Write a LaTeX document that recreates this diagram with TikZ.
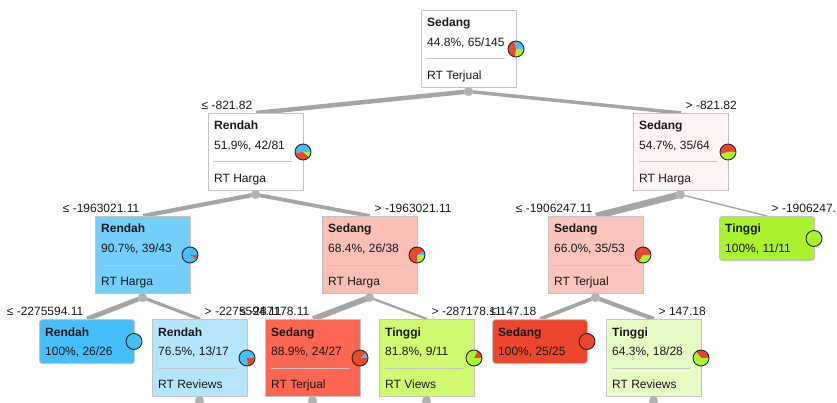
\documentclass[tikz,border=0pt]{standalone}
\usepackage{fontspec}
\setmainfont{Liberation Sans}
\usetikzlibrary{backgrounds}

\definecolor{rendah}{RGB}{70,190,250}
\definecolor{sedang}{RGB}{237,70,47}
\definecolor{tinggi}{RGB}{170,242,43}
\definecolor{boxgray}{RGB}{196,196,196}
\definecolor{linegray}{RGB}{165,165,165}
\definecolor{textgray}{RGB}{25,25,25}

\tikzset{
  innerbox/.style={draw=boxgray, line width=1pt, anchor=north west, inner sep=0pt, minimum width=95pt, minimum height=77pt},
  leafbox/.style={innerbox, rounded corners=3pt, minimum height=44pt},
  classname/.style={anchor=base west, inner sep=0pt, text=textgray, font=\bfseries},
  stats/.style={anchor=base west, inner sep=0pt, text=textgray},
  sepline/.style={draw=boxgray, line width=1pt},
  branch/.style={draw=linegray},
  splitdot/.style={circle, fill=linegray!85, draw=linegray!60, inner sep=0pt, minimum size=9pt},
  leftcut/.style={anchor=base east, inner sep=0pt, text=textgray},
  rightcut/.style={anchor=base west, inner sep=0pt, text=textgray},
  pieline/.style={draw=black!85, line width=0.9pt}
}

\newcommand\drawpie[2]{%
  \foreach \a/\b/\c in {#2}{\fill[\c] (#1) -- ++(\a:8pt) arc[start angle=\a, end angle=\b, radius=8pt] -- cycle;}
  \draw[pieline] (#1) circle[radius=8pt];}

\begin{document}
\fontsize{12}{14}\selectfont
\begin{tikzpicture}[x=1pt,y=-1pt]
\useasboundingbox (0,0) rectangle (837,403);

\node[innerbox, fill=white] (n0) at (421,10) {};
\node[classname] (n0c) at (427,27) {Sedang};
\node[stats] (n0s) at (427,46.5) {44.8\%, 65/145};
\draw[sepline] (427,59) -- (505,59);
\node[stats] (n0a) at (427,79.5) {RT Terjual};

\node[innerbox, fill=white] (n1) at (208,113) {};
\node[classname] (n1c) at (214,130) {Rendah};
\node[stats] (n1s) at (214,149.5) {51.9\%, 42/81};
\draw[sepline] (214,162) -- (292,162);
\node[stats] (n1a) at (214,182.5) {RT Harga};

\node[innerbox, fill=sedang!6!white] (n2) at (633,113) {};
\node[classname] (n2c) at (639,130) {Sedang};
\node[stats] (n2s) at (639,149.5) {54.7\%, 35/64};
\draw[sepline] (639,162) -- (717,162);
\node[stats] (n2a) at (639,182.5) {RT Harga};

\node[innerbox, fill=rendah!75!white] (n3) at (95,216) {};
\node[classname] (n3c) at (101,233) {Rendah};
\node[stats] (n3s) at (101,252.5) {90.7\%, 39/43};
\draw[sepline] (101,265) -- (179,265);
\node[stats] (n3a) at (101,285.5) {RT Harga};

\node[innerbox, fill=sedang!35!white] (n4) at (322,216) {};
\node[classname] (n4c) at (328,233) {Sedang};
\node[stats] (n4s) at (328,252.5) {68.4\%, 26/38};
\draw[sepline] (328,265) -- (406,265);
\node[stats] (n4a) at (328,285.5) {RT Harga};

\node[innerbox, fill=sedang!32!white] (n5) at (548,216) {};
\node[classname] (n5c) at (554,233) {Sedang};
\node[stats] (n5s) at (554,252.5) {66.0\%, 35/53};
\draw[sepline] (554,265) -- (632,265);
\node[stats] (n5a) at (554,285.5) {RT Terjual};

\node[leafbox, fill=tinggi] (n6) at (719,216) {};
\node[classname] (n6c) at (725,233) {Tinggi};
\node[stats] (n6s) at (725,252.5) {100\%, 11/11};

\node[leafbox, fill=rendah] (n7) at (39,319) {};
\node[classname] (n7c) at (45,336) {Rendah};
\node[stats] (n7s) at (45,355.5) {100\%, 26/26};

\node[innerbox, fill=rendah!40!white] (n8) at (152,319) {};
\node[classname] (n8c) at (158,336) {Rendah};
\node[stats] (n8s) at (158,355.5) {76.5\%, 13/17};
\draw[sepline] (158,368) -- (236,368);
\node[stats] (n8a) at (158,388.5) {RT Reviews};

\node[innerbox, fill={rgb,255:red,252;green,102;blue,82}] (n9) at (265,319) {};
\node[classname] (n9c) at (271,336) {Sedang};
\node[stats] (n9s) at (271,355.5) {88.9\%, 24/27};
\draw[sepline] (271,368) -- (349,368);
\node[stats] (n9a) at (271,388.5) {RT Terjual};

\node[innerbox, fill={rgb,255:red,208;green,250;blue,112}] (n10) at (379,319) {};
\node[classname] (n10c) at (385,336) {Tinggi};
\node[stats] (n10s) at (385,355.5) {81.8\%, 9/11};
\draw[sepline] (385,368) -- (463,368);
\node[stats] (n10a) at (385,388.5) {RT Views};

\node[leafbox, fill=sedang] (n11) at (492,319) {};
\node[classname] (n11c) at (498,336) {Sedang};
\node[stats] (n11s) at (498,355.5) {100\%, 25/25};

\node[innerbox, fill=tinggi!28!white] (n12) at (606,319) {};
\node[classname] (n12c) at (612,336) {Tinggi};
\node[stats] (n12s) at (612,355.5) {64.3\%, 18/28};
\draw[sepline] (612,368) -- (690,368);
\node[stats] (n12a) at (612,388.5) {RT Reviews};

\coordinate (p0) at (516,49);
\coordinate (p1) at (303,152);
\coordinate (p2) at (728,152);
\coordinate (p3) at (190,255);
\coordinate (p4) at (417,255);
\coordinate (p5) at (643,255);
\coordinate (p6) at (814,238.5);
\coordinate (p7) at (134,341.5);
\coordinate (p8) at (247,358);
\coordinate (p9) at (360,358);
\coordinate (p10) at (474,358);
\coordinate (p11) at (587,341.5);
\coordinate (p12) at (701,358);
\drawpie{p0}{0/104.28/rendah, 104.28/265.66/sedang, 265.66/360/tinggi}
\drawpie{p1}{0/186.67/rendah, 186.67/320/sedang, 320/360/tinggi}
\drawpie{p2}{0/196.88/sedang, 196.88/360/tinggi}
\drawpie{p3}{0/326.51/rendah, 326.51/360/sedang}
\drawpie{p4}{0/28.42/rendah, 28.42/274.74/sedang, 274.74/360/tinggi}
\drawpie{p5}{0/237.74/sedang, 237.74/360/tinggi}
\drawpie{p6}{0/360/tinggi}
\drawpie{p7}{0/360/rendah}
\drawpie{p8}{0/275.29/rendah, 275.29/360/sedang}
\drawpie{p9}{0/40/rendah, 40/360/sedang}
\drawpie{p10}{0/65.45/sedang, 65.45/360/tinggi}
\drawpie{p11}{0/360/sedang}
\drawpie{p12}{0/128.57/sedang, 128.57/360/tinggi}

\node[splitdot] (d0) at (468.5,91.5) {};
\node[splitdot] (d1) at (255.5,194.5) {};
\node[splitdot] (d2) at (680.5,194.5) {};
\node[splitdot] (d3) at (142.5,297.5) {};
\node[splitdot] (d4) at (369.5,297.5) {};
\node[splitdot] (d5) at (595.5,297.5) {};
\node[splitdot] (d8) at (199.5,400.5) {};
\node[splitdot] (d9) at (312.5,400.5) {};
\node[splitdot] (d10) at (426.5,400.5) {};
\node[splitdot] (d12) at (653.5,400.5) {};

\begin{pgfonlayer}{background}
\draw[branch, line width=4.5pt] (d0.center) -- (n1.north);
\draw[branch, line width=3.5pt] (d0.center) -- (n2.north);
\draw[branch, line width=4.2pt] (d1.center) -- (n3.north);
\draw[branch, line width=3.8pt] (d1.center) -- (n4.north);
\draw[branch, line width=6.6pt] (d2.center) -- (n5.north);
\draw[branch, line width=1.4pt] (d2.center) -- (n6.north);
\draw[branch, line width=4.8pt] (d3.center) -- (n7.north);
\draw[branch, line width=3.2pt] (d3.center) -- (n8.north);
\draw[branch, line width=5.7pt] (d4.center) -- (n9.north);
\draw[branch, line width=2.3pt] (d4.center) -- (n10.north);
\draw[branch, line width=3.8pt] (d5.center) -- (n11.north);
\draw[branch, line width=4.2pt] (d5.center) -- (n12.north);
\end{pgfonlayer}

\node[leftcut] (l1) at (252.5,109.5) {≤ -821.82};
\node[rightcut] (l2) at (685.5,109.5) {> -821.82};
\node[leftcut] (l3) at (139.5,212.5) {≤ -1963021.11};
\node[rightcut] (l4) at (374.5,212.5) {> -1963021.11};
\node[leftcut] (l5) at (592.5,212.5) {≤ -1906247.11};
\node[rightcut] (l6) at (771.5,212.5) {> -1906247.11};
\node[leftcut] (l7) at (83.5,315.5) {≤ -2275594.11};
\node[rightcut] (l8) at (204.5,315.5) {> -2275594.11};
\node[leftcut] (l9) at (309.5,315.5) {≤ -287178.11};
\node[rightcut] (l10) at (431.5,315.5) {> -287178.11};
\node[leftcut] (l11) at (536.5,315.5) {≤ 147.18};
\node[rightcut] (l12) at (658.5,315.5) {> 147.18};
\end{tikzpicture}
\end{document}
